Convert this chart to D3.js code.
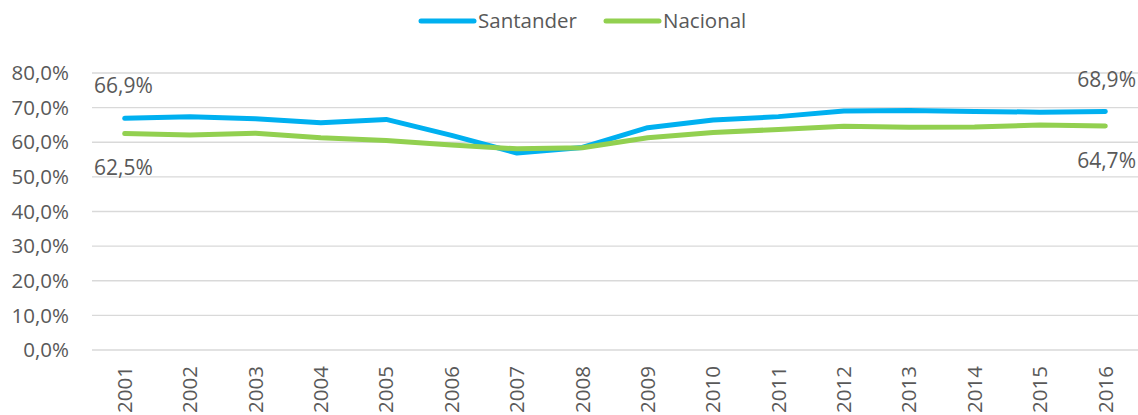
<!DOCTYPE html>
<html>
<head>
<meta charset="utf-8">
<script src="https://cdn.jsdelivr.net/npm/d3@7"></script>
<style>
  body { margin: 0; background: #fff; }
  text { font-family: "Open Sans", "Noto Sans", sans-serif; fill: #595959; }
</style>
</head>
<body>
<svg id="chart" width="1138" height="415"></svg>
<script>
// data
const years = ["2001","2002","2003","2004","2005","2006","2007","2008",
               "2009","2010","2011","2012","2013","2014","2015","2016"];
const santander = [66.9, 67.4, 66.8, 65.6, 66.6, 62.0, 56.9, 58.5,
                   64.2, 66.4, 67.4, 69.0, 69.2, 68.9, 68.7, 68.9];
const nacional = [62.5, 62.1, 62.6, 61.3, 60.5, 59.2, 58.1, 58.4,
                  61.3, 62.8, 63.7, 64.6, 64.3, 64.4, 65.0, 64.7];
const yTicks = [0, 10, 20, 30, 40, 50, 60, 70, 80];

const series = [
  { name: "Santander", values: santander, color: "#00B0F0" },
  { name: "Nacional", values: nacional, color: "#92D050" }
];

const svg = d3.select("#chart");
const fmt = v => d3.format(".1f")(v).replace(".", ",") + "%";

const x = d3.scaleBand().domain(years).range([92, 1138]);
const y = d3.scaleLinear().domain([0, 80]).range([350, 73]);

// gridlines
svg.append("g")
  .selectAll("line")
  .data(yTicks)
  .join("line")
    .attr("x1", 92)
    .attr("x2", 1138)
    .attr("y1", d => y(d))
    .attr("y2", d => y(d))
    .attr("stroke", "#d9d9d9")
    .attr("stroke-width", 1.3);

// y axis labels
svg.append("g")
  .selectAll("text")
  .data(yTicks)
  .join("text")
    .attr("x", 69)
    .attr("y", d => y(d))
    .attr("dy", "0.35em")
    .attr("text-anchor", "end")
    .attr("font-size", 20.5)
    .text(d => fmt(d));

// x axis labels
svg.append("g")
  .selectAll("text")
  .data(years)
  .join("text")
    .attr("transform", d => `translate(${x(d) + x.bandwidth() / 2},366) rotate(-90)`)
    .attr("dy", "0.35em")
    .attr("text-anchor", "end")
    .attr("font-size", 20.5)
    .text(d => d);

const line = d3.line()
  .x((d, i) => x(years[i]) + x.bandwidth() / 2)
  .y(d => y(d));

series.forEach(s => {
  svg.append("path")
    .attr("d", line(s.values))
    .attr("fill", "none")
    .attr("stroke", s.color)
    .attr("stroke-width", 5)
    .attr("stroke-linecap", "round")
    .attr("stroke-linejoin", "round");
});

// end labels
const last = years.length - 1;
svg.append("text").attr("x", 94).attr("y", y(santander[0]) - 25)
  .attr("font-size", 21).text(fmt(santander[0]));
svg.append("text").attr("x", 94).attr("y", y(nacional[0]) + 41)
  .attr("font-size", 21).text(fmt(nacional[0]));
svg.append("text").attr("x", 1136).attr("y", y(santander[last]) - 24)
  .attr("text-anchor", "end").attr("font-size", 21).text(fmt(santander[last]));
svg.append("text").attr("x", 1136).attr("y", y(nacional[last]) + 42)
  .attr("text-anchor", "end").attr("font-size", 21).text(fmt(nacional[last]));

// legend
const legend = svg.append("g");
const legX = [421, 606];
series.forEach((s, i) => {
  legend.append("line")
    .attr("x1", legX[i]).attr("x2", legX[i] + 53)
    .attr("y1", 21).attr("y2", 21)
    .attr("stroke", s.color).attr("stroke-width", 5)
    .attr("stroke-linecap", "round");
  legend.append("text")
    .attr("x", legX[i] + 57).attr("y", 21).attr("dy", "0.35em")
    .attr("font-size", 20.5).text(s.name);
});
</script>
</body>
</html>
